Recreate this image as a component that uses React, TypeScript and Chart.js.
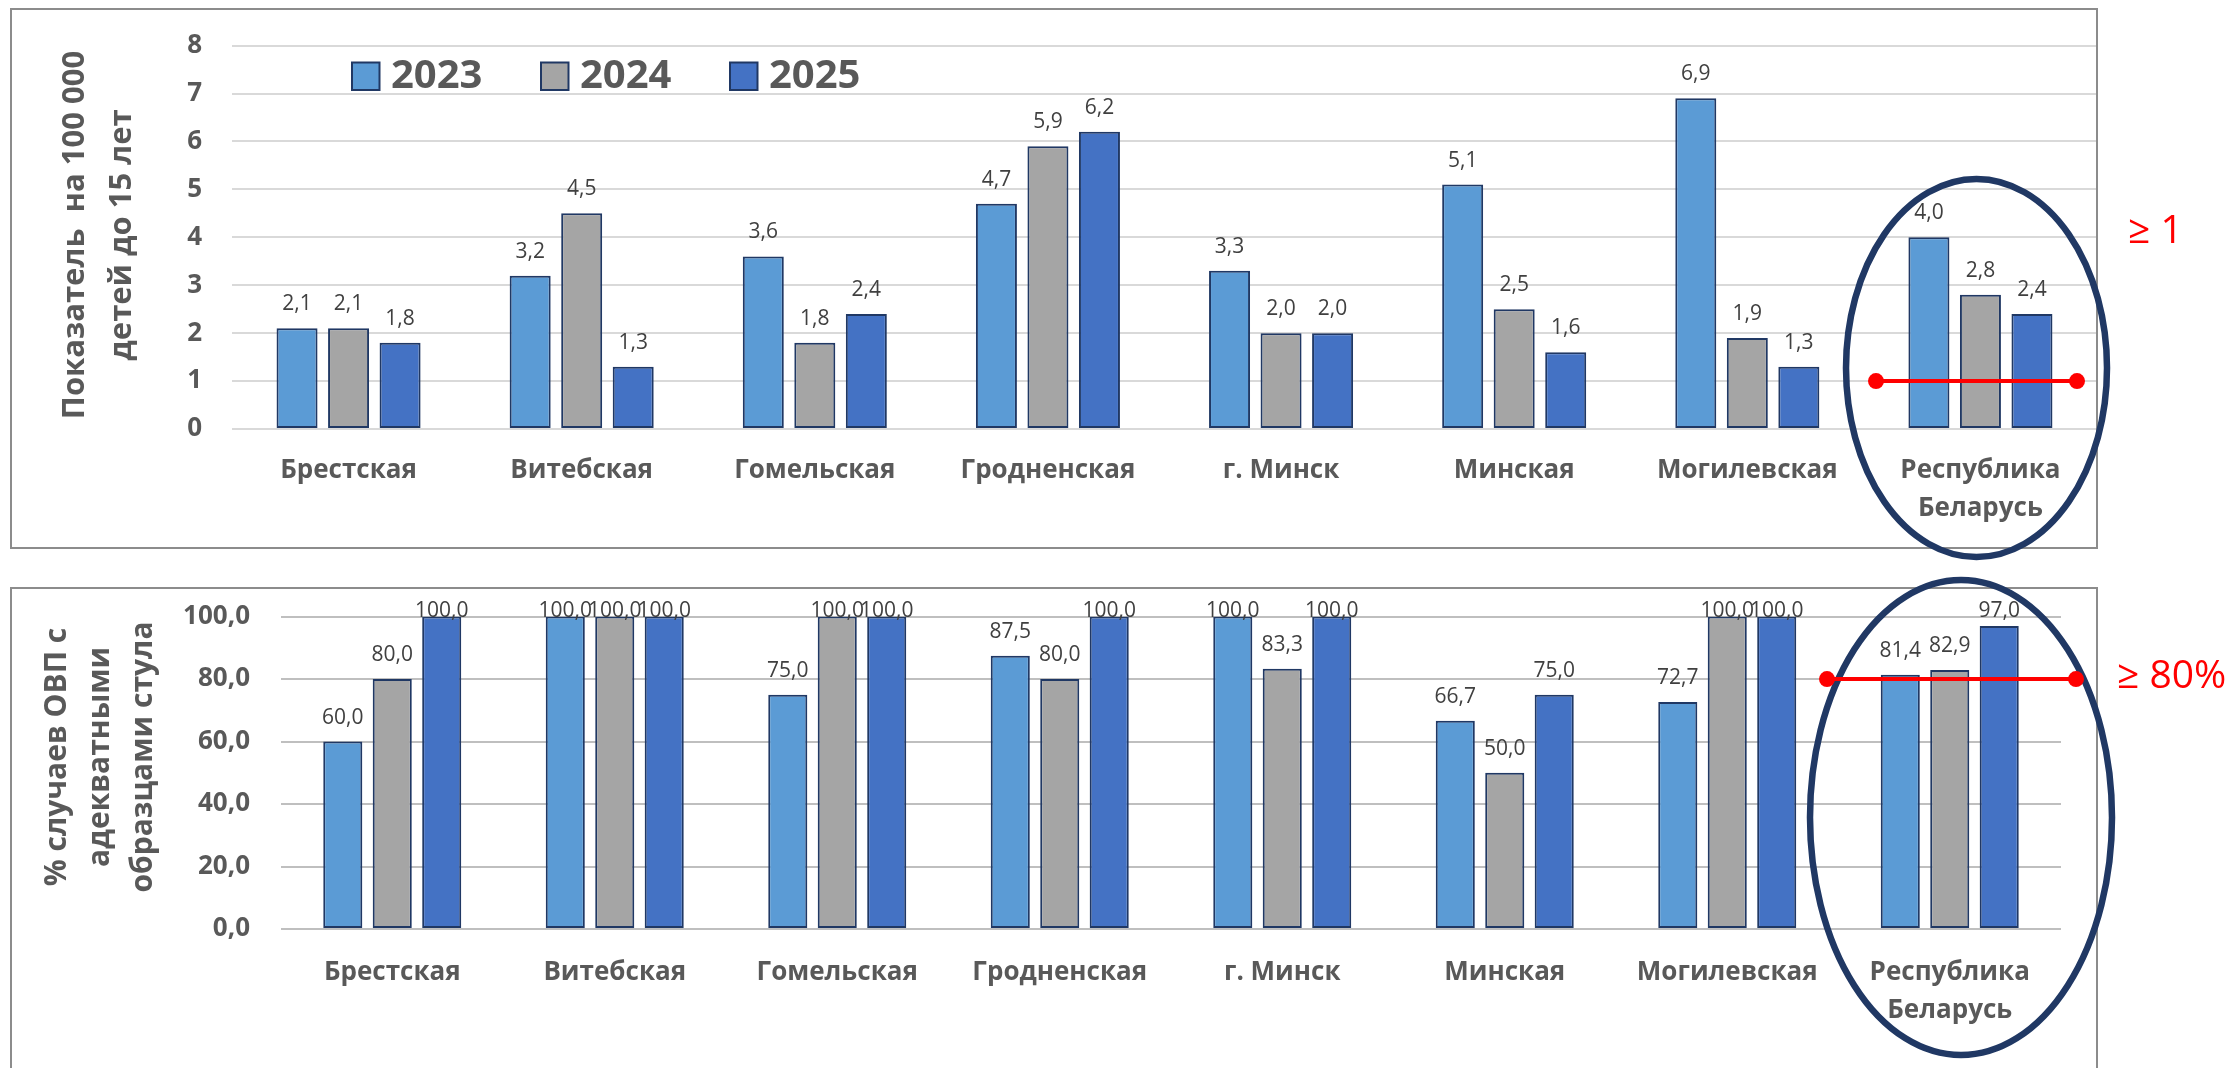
import React, { useEffect, useRef } from 'react';
import { Chart, registerables } from 'chart.js';

Chart.register(...registerables);

// ---- data ----
const REGIONS: (string | string[])[] = [
  'Брестская',
  'Витебская',
  'Гомельская',
  'Гродненская',
  'г. Минск',
  'Минская',
  'Могилевская',
  ['Республика', 'Беларусь'],
];
const YEARS = ['2023', '2024', '2025'];

const INCIDENCE_2023 = [2.1, 3.2, 3.6, 4.7, 3.3, 5.1, 6.9, 4.0];
const INCIDENCE_2024 = [2.1, 4.5, 1.8, 5.9, 2.0, 2.5, 1.9, 2.8];
const INCIDENCE_2025 = [1.8, 1.3, 2.4, 6.2, 2.0, 1.6, 1.3, 2.4];

const STOOL_2023 = [60.0, 100.0, 75.0, 87.5, 100.0, 66.7, 72.7, 81.4];
const STOOL_2024 = [80.0, 100.0, 100.0, 80.0, 83.3, 50.0, 100.0, 82.9];
const STOOL_2025 = [100.0, 100.0, 100.0, 100.0, 100.0, 75.0, 100.0, 97.0];

const INCIDENCE_TARGET = 1;
const STOOL_TARGET = 80;
const INCIDENCE_TARGET_LABEL = '≥ 1';
const STOOL_TARGET_LABEL = '≥ 80%';

const INCIDENCE_TITLE = ['Показатель  на 100 000', 'детей до 15 лет'];
const STOOL_TITLE = ['% случаев ОВП с', 'адекватными', 'образцами стула'];

// ---- styling ----
const YEAR_COLORS = ['#5B9BD5', '#A5A5A5', '#4472C4'];
const BAR_BORDER = '#203864';
const AXIS_TEXT = '#595959';
const VALUE_TEXT = '#404040';
const FONT = '"Open Sans", "Noto Sans", sans-serif';
const PAGE_W = 2237;

const comma1 = (v: number) => v.toFixed(1).replace('.', ',');

type PanelSpec = {
  series: number[][];
  height: number;
  area: { left: number; right: number; top: number; bottom: number };
  yMax: number;
  yStep: number;
  tickFormat: (v: number) => string;
  tickPadding: number;
  xPadding: number;
  gridColor: string;
  box: { x: number; y: number; w: number; h: number };
  title: string[];
  titleX: number[];
  titleY: number;
  titleSize: number;
  labelOffset: number;
  legend: boolean;
  target: number;
  targetFrom: number;
  targetTo: number;
  targetLabel: string;
  targetLabelX: number;
  targetLabelY: number;
  ellipse: { cx: number; cy: number; rx: number; ry: number };
  catPct: number;
  barPct: number;
};

const INCIDENCE_PANEL: PanelSpec = {
  series: [INCIDENCE_2023, INCIDENCE_2024, INCIDENCE_2025],
  height: 570,
  area: { left: 232, right: 2097, top: 45, bottom: 429 },
  yMax: 8,
  yStep: 1,
  tickFormat: (v) => String(v),
  tickPadding: 30,
  xPadding: 23,
  gridColor: '#D9D9D9',
  box: { x: 11, y: 9, w: 2086, h: 539 },
  title: INCIDENCE_TITLE,
  titleX: [75, 122],
  titleY: 235,
  titleSize: 31,
  labelOffset: 24,
  legend: true,
  target: INCIDENCE_TARGET,
  targetFrom: 1876,
  targetTo: 2077,
  targetLabel: INCIDENCE_TARGET_LABEL,
  targetLabelX: 2128,
  targetLabelY: 232,
  ellipse: { cx: 1976.5, cy: 368, rx: 130.5, ry: 189 },
  catPct: 0.663,
  barPct: 0.796,
};

const STOOL_PANEL: PanelSpec = {
  series: [STOOL_2023, STOOL_2024, STOOL_2025],
  height: 498,
  area: { left: 281, right: 2061, top: 45, bottom: 359 },
  yMax: 100,
  yStep: 20,
  tickFormat: comma1,
  tickPadding: 31,
  xPadding: 25,
  gridColor: '#BFBFBF',
  box: { x: 11, y: 18, w: 2086, h: 600 },
  title: STOOL_TITLE,
  titleX: [57, 100, 143],
  titleY: 187,
  titleSize: 30,
  labelOffset: 24,
  legend: false,
  target: STOOL_TARGET,
  targetFrom: 1827,
  targetTo: 2076,
  targetLabel: STOOL_TARGET_LABEL,
  targetLabelX: 2117,
  targetLabelY: 107,
  ellipse: { cx: 1961, cy: 247.5, rx: 151, ry: 237.5 },
  catPct: 0.667,
  barPct: 0.79,
};

function decorPlugin(spec: PanelSpec) {
  return {
    id: 'panelDecor',
    afterDatasetsDraw(chart: any) {
      const ctx: CanvasRenderingContext2D = chart.ctx;
      const area = chart.chartArea;
      ctx.save();
      ctx.font = `21px ${FONT}`;
      ctx.fillStyle = VALUE_TEXT;
      ctx.textAlign = 'center';
      ctx.textBaseline = 'middle';
      chart.data.datasets.forEach((ds: any, di: number) => {
        const meta = chart.getDatasetMeta(di);
        meta.data.forEach((bar: any, i: number) => {
          const y = Math.max(bar.y - spec.labelOffset, area.top - 6);
          ctx.fillText(comma1(ds.data[i]), bar.x, y);
        });
      });
      ctx.restore();
    },
    afterDraw(chart: any) {
      const ctx: CanvasRenderingContext2D = chart.ctx;
      const yScale = chart.scales.y;
      ctx.save();

      // frame around the panel
      ctx.strokeStyle = '#8C8C8C';
      ctx.lineWidth = 2;
      ctx.strokeRect(spec.box.x, spec.box.y, spec.box.w, spec.box.h);

      // rotated axis title
      ctx.fillStyle = AXIS_TEXT;
      ctx.font = `bold ${spec.titleSize}px ${FONT}`;
      ctx.textAlign = 'center';
      ctx.textBaseline = 'middle';
      spec.title.forEach((line, i) => {
        ctx.save();
        ctx.translate(spec.titleX[i], spec.titleY);
        ctx.rotate(-Math.PI / 2);
        ctx.fillText(line, 0, 0);
        ctx.restore();
      });

      // legend inside the plot
      if (spec.legend) {
        ctx.font = `bold 40px ${FONT}`;
        ctx.textAlign = 'left';
        YEARS.forEach((year, i) => {
          const bx = 352 + i * 189;
          ctx.fillStyle = YEAR_COLORS[i];
          ctx.fillRect(bx, 62.5, 27.5, 27.5);
          ctx.strokeStyle = BAR_BORDER;
          ctx.lineWidth = 2;
          ctx.strokeRect(bx, 62.5, 27.5, 27.5);
          ctx.fillStyle = AXIS_TEXT;
          ctx.fillText(year, bx + 39, 77);
        });
      }

      // highlight around the national figure
      const e = spec.ellipse;
      ctx.beginPath();
      ctx.ellipse(e.cx, e.cy, e.rx, e.ry, 0, 0, Math.PI * 2);
      ctx.strokeStyle = '#203864';
      ctx.lineWidth = 6.5;
      ctx.stroke();

      // target threshold
      const ty = yScale.getPixelForValue(spec.target);
      ctx.strokeStyle = '#FF0000';
      ctx.fillStyle = '#FF0000';
      ctx.lineWidth = 4;
      ctx.beginPath();
      ctx.moveTo(spec.targetFrom, ty);
      ctx.lineTo(spec.targetTo, ty);
      ctx.stroke();
      [spec.targetFrom, spec.targetTo].forEach((x) => {
        ctx.beginPath();
        ctx.arc(x, ty, 8, 0, Math.PI * 2);
        ctx.fill();
      });
      ctx.font = `39px ${FONT}`;
      ctx.textAlign = 'left';
      ctx.textBaseline = 'middle';
      ctx.fillText(spec.targetLabel, spec.targetLabelX, spec.targetLabelY);

      ctx.restore();
    },
  };
}

function buildConfig(spec: PanelSpec): any {
  const a = spec.area;
  return {
    type: 'bar',
    data: {
      labels: REGIONS,
      datasets: YEARS.map((year, i) => ({
        label: year,
        data: spec.series[i],
        backgroundColor: YEAR_COLORS[i],
        borderColor: BAR_BORDER,
        borderWidth: 2,
        borderSkipped: false,
        categoryPercentage: spec.catPct,
        barPercentage: spec.barPct,
      })),
    },
    options: {
      responsive: false,
      animation: false,
      devicePixelRatio: 1,
      layout: { padding: { left: 0, top: a.top, right: PAGE_W - a.right, bottom: 0 } },
      plugins: { legend: { display: false }, tooltip: { enabled: false } },
      scales: {
        x: {
          offset: true,
          grid: { display: false, drawTicks: false },
          border: { display: false },
          ticks: {
            color: AXIS_TEXT,
            padding: spec.xPadding,
            maxRotation: 0,
            autoSkip: false,
            font: { family: FONT, size: 26, weight: 'bold', lineHeight: 38 / 26 },
          },
          afterFit: (scale: any) => {
            scale.height = spec.height - a.bottom;
          },
        },
        y: {
          min: 0,
          max: spec.yMax,
          grid: { color: spec.gridColor, lineWidth: 2, drawTicks: false },
          border: { display: false },
          ticks: {
            stepSize: spec.yStep,
            color: AXIS_TEXT,
            padding: spec.tickPadding,
            font: { family: FONT, size: 26, weight: 'bold' },
            callback: (v: any) => spec.tickFormat(Number(v)),
          },
          afterFit: (scale: any) => {
            scale.width = a.left;
          },
        },
      },
    },
    plugins: [decorPlugin(spec)],
  };
}

function Panel({ spec, top }: { spec: PanelSpec; top: number }) {
  const ref = useRef<HTMLCanvasElement>(null);
  useEffect(() => {
    const chart = new Chart(ref.current as HTMLCanvasElement, buildConfig(spec));
    return () => chart.destroy();
  }, [spec]);
  return (
    <canvas
      ref={ref}
      width={PAGE_W}
      height={spec.height}
      style={{ position: 'absolute', left: 0, top, width: PAGE_W, height: spec.height }}
    />
  );
}

export default function App() {
  return (
    <div
      style={{
        position: 'fixed',
        left: 0,
        top: 0,
        width: PAGE_W,
        height: 1068,
        background: '#FFFFFF',
        overflow: 'hidden',
      }}
    >
      <Panel spec={INCIDENCE_PANEL} top={0} />
      <Panel spec={STOOL_PANEL} top={570} />
    </div>
  );
}
